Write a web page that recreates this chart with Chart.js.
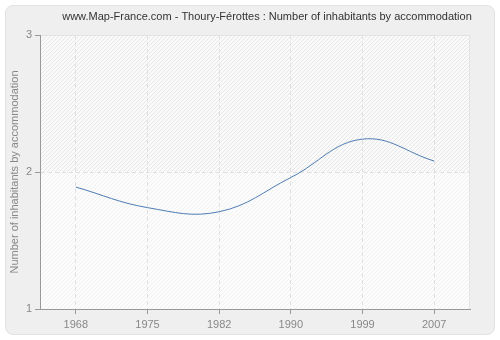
<!DOCTYPE html>
<html>
<head>
<meta charset="utf-8">
<script src="https://cdn.jsdelivr.net/npm/chart.js@4"></script>
<style>
  html, body { margin: 0; padding: 0; background: #fff; }
  #wrap {
    position: absolute; left: 5px; top: 5px; width: 488px; height: 328px;
    background: #efefef; border: 1px solid #e2e2e2; border-radius: 8px;
  }
  #chart { position: absolute; left: 0; top: 0; }
</style>
</head>
<body>
<div id="wrap"></div>
<canvas id="chart" width="500" height="340"></canvas>
<script>
// inhabitants per dwelling, census years
var years = ['1968', '1975', '1982', '1990', '1999', '2007'];
var perHousing = [1.89, 1.74, 1.71, 1.96, 2.24, 2.08];
var yTicks = [1, 2, 3];

var TITLE = 'www.Map-France.com - Thoury-Férottes : Number of inhabitants by accommodation';
var FONT = '"Liberation Sans", Arial, sans-serif';

// striped background of the plot area, lighter under the 2 line
var hatchBg = {
    id: 'hatchBg',
    beforeDraw: function (chart) {
        var ctx = chart.ctx, a = chart.chartArea;
        var y2 = chart.scales.y.getPixelForValue(2);
        ctx.save();
        ctx.fillStyle = '#fafafa';
        ctx.fillRect(a.left, a.top, a.right - a.left, a.bottom - a.top);
        ctx.fillStyle = '#fcfcfc';
        ctx.fillRect(a.left, y2, a.right - a.left, a.bottom - y2);
        function stripes(top, bottom, color) {
            ctx.save();
            ctx.beginPath();
            ctx.rect(a.left, top, a.right - a.left, bottom - top);
            ctx.clip();
            ctx.strokeStyle = color;
            ctx.lineWidth = 1;
            ctx.beginPath();
            var h = bottom - top;
            for (var x = a.left - h; x < a.right + h; x += 4) {
                ctx.moveTo(x, bottom);
                ctx.lineTo(x + h, top);
            }
            ctx.stroke();
            ctx.restore();
        }
        stripes(a.top, y2, '#e7e7e7');
        stripes(y2, a.bottom, '#f1f1f1');
        ctx.strokeStyle = '#e4e4e4';
        ctx.strokeRect(a.left + 0.5, a.top + 0.5, a.right - a.left - 1, a.bottom - a.top);
        ctx.restore();
    },
    afterDraw: function (chart) {
        var ctx = chart.ctx;
        ctx.save();
        ctx.font = '11px ' + FONT;
        ctx.fillStyle = '#333';
        ctx.textAlign = 'center';
        ctx.textBaseline = 'middle';
        ctx.fillText(TITLE, 267, 17);
        ctx.restore();
    }
};

new Chart(document.getElementById('chart'), {
    type: 'line',
    data: {
        labels: years,
        datasets: [{
            data: perHousing,
            borderColor: '#4f7cb4',
            borderWidth: 1,
            tension: 0.4,
            pointRadius: 0,
            fill: false
        }]
    },
    options: {
        responsive: false,
        animation: false,
        layout: { padding: { left: 0, right: 30, top: 35, bottom: 0 } },
        plugins: { legend: { display: false }, tooltip: { enabled: false } },
        scales: {
            x: {
                offset: true,
                afterFit: function (s) { s.height = 31; },
                border: { display: true, color: '#999', width: 1, dash: [4, 3] },
                grid: {
                    color: '#e0e0e0',
                    tickColor: '#999', tickBorderDash: [], tickLength: 5
                },
                ticks: { color: '#888', font: { family: FONT, size: 11 }, padding: 4, maxRotation: 0 }
            },
            y: {
                min: 1, max: 3,
                afterBuildTicks: function (s) { s.ticks = yTicks.map(function (v) { return { value: v }; }); },
                afterFit: function (s) { s.width = 40; },
                border: { display: true, color: '#999', width: 1, dash: [4, 3] },
                grid: {
                    color: function (c) { return c.tick && c.tick.value === 2 ? '#e0e0e0' : 'rgba(0,0,0,0)'; },
                    tickColor: '#999', tickBorderDash: [], tickLength: 5
                },
                ticks: { color: '#888', font: { family: FONT, size: 11 }, padding: 3 },
                title: {
                    display: true,
                    text: 'Number of inhabitants by accommodation',
                    color: '#888',
                    font: { family: FONT, size: 11 },
                    padding: { top: 8, bottom: 0 }
                }
            }
        }
    },
    plugins: [hatchBg]
});
</script>
</body>
</html>
